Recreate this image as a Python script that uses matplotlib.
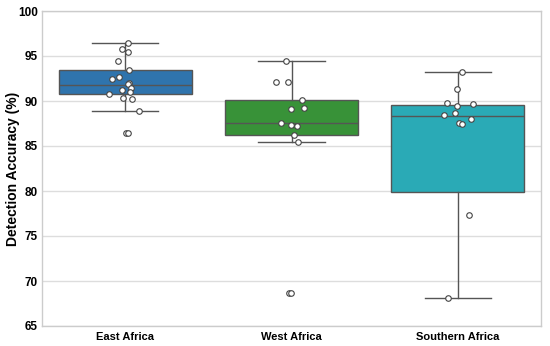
import numpy as np
import matplotlib.pyplot as plt

regions = ["East Africa", "West Africa", "Southern Africa"]
box_colors = ["#2f74ad", "#389238", "#2aaab6"]

# box summaries: whislo, q1, med, q3, whishi
box_stats = [
    [88.9, 90.8, 91.8, 93.5, 96.4],
    [85.4, 86.2, 87.6, 90.1, 94.5],
    [68.15, 79.85, 88.3, 89.6, 93.2],
]

east_vals = [96.4, 95.8, 95.4, 94.4, 93.5, 92.7, 92.5, 92.0, 91.9, 91.5,
             91.2, 91.0, 90.8, 90.3, 90.2, 88.9, 86.5, 86.5]
west_vals = [94.5, 92.1, 92.1, 90.1, 89.1, 89.2, 87.6, 87.3, 87.2, 86.2,
             85.4, 68.7, 68.7]
south_vals = [93.2, 91.3, 89.8, 89.7, 89.5, 88.7, 88.5, 88.0, 87.6, 87.5,
              77.3, 68.1]

# horizontal strip jitter (category units)
east_jit = [0.019, -0.021, 0.019, -0.041, 0.023, -0.035, -0.081, 0.023, 0.02,
            0.035, -0.017, 0.031, -0.096, -0.011, 0.039, 0.081, 0.005, 0.017]
west_jit = [-0.035, -0.093, -0.019, 0.065, -0.001, 0.075, -0.065, -0.003,
            0.033, 0.013, 0.041, -0.013, -0.001]
south_jit = [0.027, -0.005, -0.067, 0.091, -0.003, -0.015, -0.081, 0.078,
             0.009, 0.027, 0.067, -0.057]

plt.rcParams['font.family'] = ['Liberation Sans', 'DejaVu Sans']

fig = plt.figure(figsize=(5.5, 3.46), dpi=100)
ax = fig.add_axes([42 / 550, 20 / 346, 499 / 550, 315 / 346])

stats = []
for r, s in zip(regions, box_stats):
    stats.append(dict(label=r, whislo=s[0], q1=s[1], med=s[2], q3=s[3],
                      whishi=s[4], fliers=[]))

line_c = "#555555"
bp = ax.bxp(stats, positions=range(len(regions)), widths=0.8,
            patch_artist=True, showfliers=False,
            boxprops=dict(edgecolor=line_c, linewidth=1.0),
            whiskerprops=dict(color=line_c, linewidth=1.0),
            capprops=dict(color=line_c, linewidth=1.0),
            medianprops=dict(color=line_c, linewidth=1.0),
            capwidths=0.4)
for patch, c in zip(bp['boxes'], box_colors):
    patch.set_facecolor(c)
for item in ['boxes', 'whiskers', 'caps', 'medians']:
    for a in bp[item]:
        a.set_zorder(2)

for i, (vals, jit) in enumerate([(east_vals, east_jit), (west_vals, west_jit),
                                  (south_vals, south_jit)]):
    ax.scatter(np.array(jit) + i, vals, s=16, facecolor="white",
               edgecolor="#444444", linewidth=0.8, zorder=3)

ax.set_xlim(-0.5, 2.5)
ax.set_ylim(65, 100)
ax.set_yticks(range(65, 101, 5))
ax.set_xticks(range(len(regions)))
ax.set_xticklabels(regions, fontweight="bold", fontsize=8)
for t in ax.get_yticklabels():
    t.set_fontweight("bold")
    t.set_fontsize(8.5)
ax.set_ylabel("Detection Accuracy (%)", fontweight="bold", fontsize=10)
ax.yaxis.set_label_coords(-0.044, 0.5)

ax.grid(axis="y", color="#dddddd", linewidth=1.0, zorder=0)
ax.set_axisbelow(True)
for sp in ax.spines.values():
    sp.set_color("#cccccc")
    sp.set_linewidth(1.0)
ax.tick_params(axis="y", length=0, pad=3)
ax.tick_params(axis="x", length=0, pad=4)

fig.savefig("out.png", dpi=100)
